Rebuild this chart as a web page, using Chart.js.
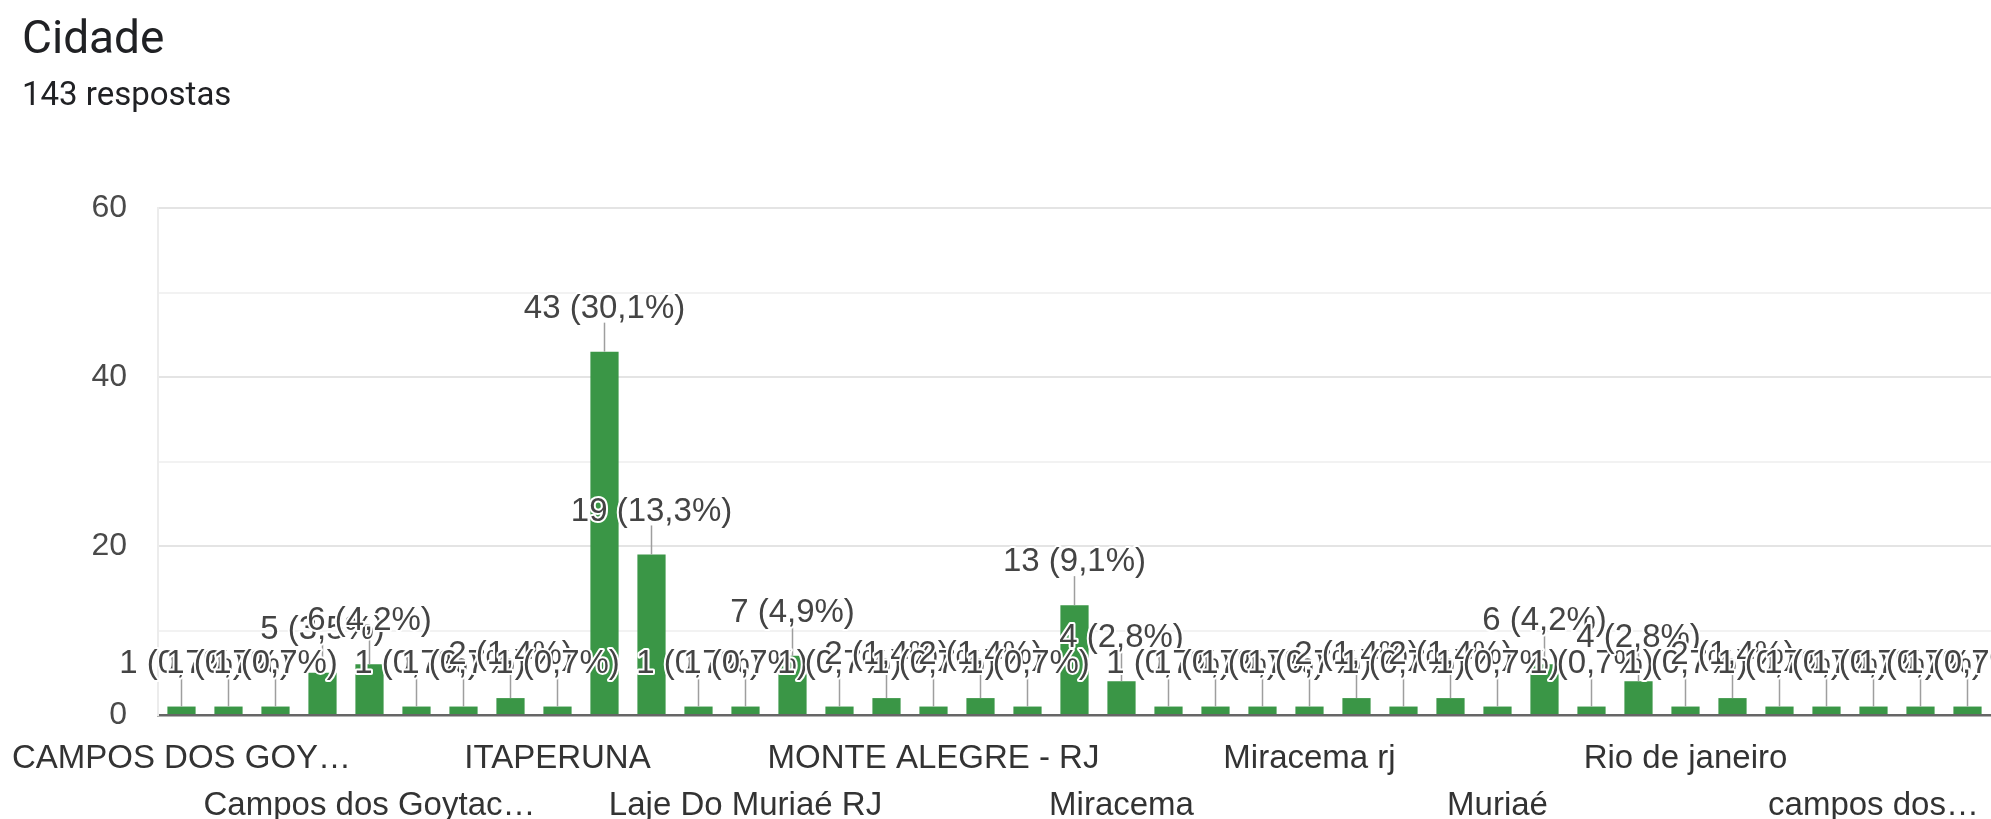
<!DOCTYPE html>
<html>
<head>
<meta charset="utf-8">
<script src="https://cdn.jsdelivr.net/npm/chart.js@4"></script>
<style>
  body { margin: 0; background: #fff; overflow: hidden; font-family: Roboto, "Noto Sans", sans-serif; }
  #wrap { position: relative; width: 1991px; height: 819px; }
  #title { position: absolute; left: 22px; top: 14px; font-size: 46px; line-height: 46px; color: #202124; }
  #sub { position: absolute; left: 22px; top: 77px; font-size: 33px; line-height: 33px; color: #202124; }
  canvas { position: absolute; left: 0; top: 0; }
</style>
</head>
<body>
<div id="wrap">
  <canvas id="cidadeChart" width="1991" height="819"></canvas>
  <div id="title">Cidade</div>
  <div id="sub">143 respostas</div>
</div>
<script>
// categories as they appear on the x axis (only every 4th is printed)
const cities = [
  'CAMPOS DOS GOY…', 'Cambuci', 'Campos', 'Campos RJ', 'Campos dos Goytac…',
  'Cardoso Moreira', 'Carangola', 'Italva', 'ITAPERUNA', 'Itaperuna',
  'Itaperuna RJ', 'Itaperuna - RJ', 'Laje Do Muriaé RJ', 'Laje do Muriaé', 'Laje do Muriaé - RJ',
  'Laje do Muriaé RJ', 'MONTE ALEGRE - RJ', 'Macaé', 'Miracema - RJ', 'Miracema RJ',
  'Miracema', 'Miracema - Rj', 'Miracema, RJ', 'Miracema/RJ', 'Miracema rj',
  'Monte Alegre', 'Muriaé - MG', 'Muriaé MG', 'Muriaé', 'Natividade',
  'Niterói', 'Porciúncula', 'Rio de janeiro', 'Rio de Janeiro', 'São José de Ubá',
  'Santo Antônio de Pádua', 'campos dos…', 'itaperuna', 'miracema'
];
const answers = [
  1, 1, 1, 5, 6, 1, 1, 2, 1, 43,
  19, 1, 1, 7, 1, 2, 1, 2, 1, 13,
  4, 1, 1, 1, 1, 2, 1, 2, 1, 6,
  1, 4, 1, 2, 1, 1, 1, 1, 1
];
const totalAnswers = 143;
const yTicks = [0, 20, 40, 60];

const barGreen = '#3a9646';
const textGray = '#444';
const chartFont = '"Liberation Sans", Arial, sans-serif';

function pctLabel(v) {
  return v + ' (' + (v / totalAnswers * 100).toFixed(1).replace('.', ',') + '%)';
}

// value labels with a stem above each bar, drawn in order so they overlap like the original
const annotations = {
  id: 'annotations',
  afterDatasetsDraw(chart) {
    const ctx = chart.ctx;
    const bars = chart.getDatasetMeta(0).data;
    ctx.save();
    ctx.strokeStyle = '#9e9e9e';
    ctx.lineWidth = 1.5;
    bars.forEach(bar => {
      ctx.beginPath();
      ctx.moveTo(bar.x, bar.y);
      ctx.lineTo(bar.x, bar.y - 29);
      ctx.stroke();
    });
    ctx.font = '33px ' + chartFont;
    ctx.textAlign = 'center';
    ctx.textBaseline = 'middle';
    ctx.lineJoin = 'round';
    bars.forEach((bar, i) => {
      const txt = pctLabel(answers[i]);
      const y = bar.y - 43;
      ctx.strokeStyle = '#fff';
      ctx.lineWidth = 4;
      ctx.strokeText(txt, bar.x, y);
      ctx.fillStyle = textGray;
      ctx.fillText(txt, bar.x, y);
    });
    ctx.restore();
  }
};

const chart = new Chart(document.getElementById('cidadeChart'), {
  type: 'bar',
  data: {
    labels: cities,
    datasets: [{
      data: answers,
      backgroundColor: barGreen,
      barPercentage: 0.6,
      categoryPercentage: 1
    }]
  },
  options: {
    responsive: false,
    animation: false,
    layout: { padding: { top: 208, left: 86, right: 0, bottom: 0 } },
    plugins: {
      legend: { display: false },
      tooltip: { enabled: false }
    },
    scales: {
      x: {
        grid: { display: false, drawTicks: false },
        border: { display: true, color: '#666', width: 2.5 },
        ticks: {
          autoSkip: false,
          maxRotation: 0,
          minRotation: 0,
          padding: 20,
          color: '#333',
          font: { family: chartFont, size: 33, lineHeight: 47 / 33 },
          callback: (value, index) => {
            if (index % 8 === 0) return cities[index];
            if (index % 8 === 4) return ['', cities[index]];
            return '';
          }
        },
        afterFit: scale => {
          scale.height = 104;
          // long first label may hang past the plot edge, as in the original
          scale.paddingLeft = 0;
          scale.paddingRight = 0;
        }
      },
      y: {
        min: yTicks[0],
        max: yTicks[yTicks.length - 1],
        grid: {
          drawTicks: false,
          color: c => (c.tick.value % 20 === 0 ? '#e4e4e4' : '#f2f2f2'),
          lineWidth: 2
        },
        border: { display: true, color: '#ececec', width: 2 },
        ticks: {
          stepSize: 10,
          padding: 31,
          color: '#4a4a4a',
          font: { family: chartFont, size: 32 },
          callback: v => (yTicks.includes(v) ? v : '')
        },
        afterFit: scale => { scale.width = 72; }
      }
    }
  },
  plugins: [annotations]
});
</script>
</body>
</html>
